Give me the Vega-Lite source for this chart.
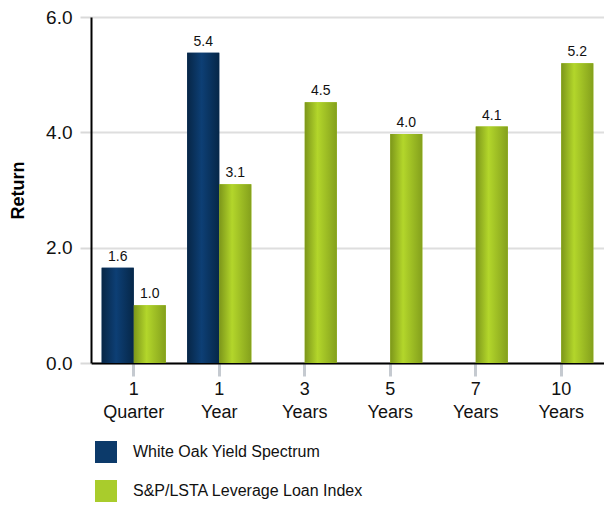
{
  "$schema": "https://vega.github.io/schema/vega-lite/v6.json",
  "autosize": "none",
  "width": 513,
  "height": 346,
  "padding": {"left": 91, "top": 17, "right": 0, "bottom": 146},
  "config": {
    "font": "Liberation Sans",
    "view": {"stroke": null}
  },
  "data": {
    "values": [
      {"period": "1 Quarter", "series": "White Oak Yield Spectrum", "value": 1.65},
      {"period": "1 Quarter", "series": "S&P/LSTA Leverage Loan Index", "value": 1.0},
      {"period": "1 Year", "series": "White Oak Yield Spectrum", "value": 5.38},
      {"period": "1 Year", "series": "S&P/LSTA Leverage Loan Index", "value": 3.1},
      {"period": "3 Years", "series": "S&P/LSTA Leverage Loan Index", "value": 4.52},
      {"period": "5 Years", "series": "S&P/LSTA Leverage Loan Index", "value": 3.97},
      {"period": "7 Years", "series": "S&P/LSTA Leverage Loan Index", "value": 4.1},
      {"period": "10 Years", "series": "S&P/LSTA Leverage Loan Index", "value": 5.2}
    ]
  },
  "encoding": {
    "x": {
      "field": "period", "type": "nominal", "sort": null,
      "scale": {"domain": ["1 Quarter", "1 Year", "3 Years", "5 Years", "7 Years", "10 Years"], "paddingInner": 0.25, "paddingOuter": 0.125},
      "axis": {
        "title": null, "labelAngle": 0, "labelFontSize": 18, "labelColor": "#111",
        "labelExpr": "split(datum.label, ' ')", "labelLineHeight": 23, "labelPadding": 4,
        "domainColor": "#000", "domainWidth": 2,
        "tickColor": "#c5cad0", "tickWidth": 3, "tickSize": 13,
        "grid": false
      }
    },
    "xOffset": {"field": "series", "type": "nominal", "scale": {"domain": ["White Oak Yield Spectrum", "S&P/LSTA Leverage Loan Index"], "paddingInner": 0, "paddingOuter": 0}},
    "y": {
      "field": "value", "type": "quantitative",
      "scale": {"domain": [0, 6], "nice": false},
      "axis": {
        "title": "Return", "titleFontSize": 18, "titleFontWeight": "bold", "titleColor": "#000", "titlePadding": 18,
        "values": [0, 2, 4, 6], "format": ".1f",
        "labelFontSize": 19, "labelColor": "#111", "labelPadding": 8,
        "domainColor": "#000", "domainWidth": 2,
        "tickColor": "#d9d9d9", "tickWidth": 2, "tickSize": 11,
        "gridColor": "#dedede", "gridWidth": 2
      }
    }
  },
  "layer": [
    {
      "mark": {"type": "bar"},
      "encoding": {
        "color": {
          "field": "series", "type": "nominal",
          "scale": {"domain": ["White Oak Yield Spectrum", "S&P/LSTA Leverage Loan Index"], "range": ["#0c3a6a", "#a9cc2c"]},
          "legend": {
            "title": null, "orient": "none", "legendX": 4, "legendY": 424, "direction": "vertical",
            "symbolType": "square", "symbolSize": 484, "symbolStrokeWidth": 0, "symbolOpacity": 1,
            "labelFontSize": 16, "labelColor": "#111", "labelOffset": 16, "rowPadding": 17, "labelLimit": 0
          }
        }
      }
    },
    {
      "transform": [{"filter": "datum.series === 'White Oak Yield Spectrum'"}],
      "mark": {
        "type": "bar",
        "color": {"gradient": "linear", "x1": 0, "x2": 1, "y1": 0, "y2": 0,
          "stops": [{"offset": 0, "color": "#072646"}, {"offset": 0.45, "color": "#0d3f75"}, {"offset": 1, "color": "#062748"}]}
      }
    },
    {
      "transform": [{"filter": "datum.series === 'S&P/LSTA Leverage Loan Index'"}],
      "mark": {
        "type": "bar",
        "color": {"gradient": "linear", "x1": 0, "x2": 1, "y1": 0, "y2": 0,
          "stops": [{"offset": 0, "color": "#7c961a"}, {"offset": 0.4, "color": "#b3d62b"}, {"offset": 1, "color": "#84a01c"}]}
      }
    },
    {
      "mark": {"type": "text", "dy": -11, "fontSize": 14, "color": "#111"},
      "encoding": {
        "text": {"field": "value", "type": "quantitative", "format": ".1f"}
      }
    }
  ]
}
